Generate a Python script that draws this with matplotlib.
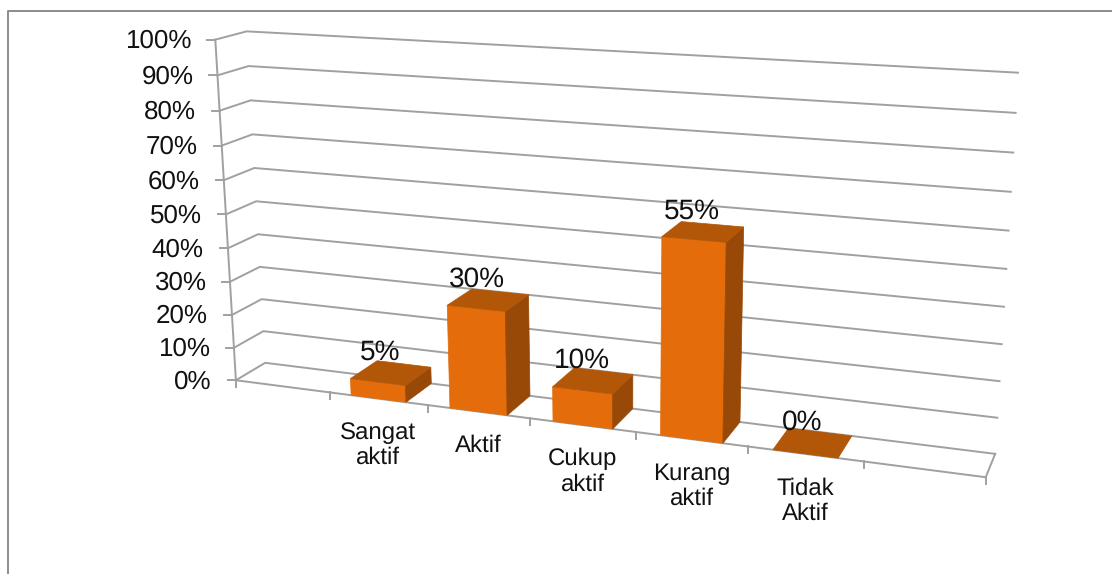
import numpy as np
import matplotlib
matplotlib.use('Agg')
import matplotlib.pyplot as plt
from matplotlib.patches import Polygon

plt.rcParams['font.family'] = ['Liberation Sans', 'DejaVu Sans']
plt.rcParams['text.hinting'] = 'none'
plt.rcParams['text.hinting_factor'] = 1

# data
categories = ['Sangat\naktif', 'Aktif', 'Cukup\naktif', 'Kurang\naktif', 'Tidak\nAktif']
values = [5, 30, 10, 55, 0]
value_labels = ['5%', '30%', '10%', '55%', '0%']
y_ticks = [0, 10, 20, 30, 40, 50, 60, 70, 80, 90, 100]

# colours
front_col = '#E46C0A'
top_col = '#B25607'
side_col = '#984807'
grid_col = '#A0A0A0'
frame_col = '#8C8C8C'

# x = category slot (0-7), y = percent, z = depth (0 front, 1 back wall)
# reference points used to fit the perspective of the 3d box
world = [(0, 0, 0), (1, 0, 0), (2, 0, 0), (3, 0, 0), (4, 0, 0), (5, 0, 0), (6, 0, 0), (7, 0, 0),
         (0, 0, 1), (7, 0, 1), (0, 100, 1), (7, 100, 1), (0, 100, 0)]
pixel = [(236, 380), (330, 392.5), (428, 405), (530, 418.5), (636, 432), (748, 446.5), (864, 461.5), (986, 477),
         (265, 363), (995, 454), (247, 31), (1018, 72.7), (215, 40)]

A = []
b = []
for (wx, wy, wz), (px, py) in zip(world, pixel):
    A.append([wx, wy, wz, 1, 0, 0, 0, 0, -px*wx, -px*wy, -px*wz])
    b.append(px)
    A.append([0, 0, 0, 0, wx, wy, wz, 1, -py*wx, -py*wy, -py*wz])
    b.append(py)
m = np.linalg.lstsq(np.array(A, dtype=float), np.array(b, dtype=float), rcond=None)[0]


def proj(x, y, z):
    w = m[8]*x + m[9]*y + m[10]*z + 1
    return ((m[0]*x + m[1]*y + m[2]*z + m[3])/w, (m[4]*x + m[5]*y + m[6]*z + m[7])/w)


fig = plt.figure(figsize=(11.12, 5.74), dpi=100)
ax = fig.add_axes([0, 0, 1, 1])
ax.set_xlim(0, 1112)
ax.set_ylim(574, 0)
ax.axis('off')

# outer frame, only top and left are visible
ax.plot([8, 8, 1112], [574, 10.5, 10.5], color=frame_col, lw=1.4, zorder=1)

# grid lines on side wall and back wall
for v in y_ticks:
    pts = [proj(0, v, 0), proj(0, v, 1), proj(7, v, 1)]
    ax.plot([p[0] for p in pts], [p[1] for p in pts], color=grid_col, lw=1.4, zorder=2)
    x0, y0 = proj(0, v, 0)
    ax.plot([x0-8, x0], [y0, y0], color=grid_col, lw=1.4, zorder=2)
    ax.text(x0-24, y0+1.5, str(v)+'%', ha='right', va='center', fontsize=19, color='#111111')

# axis lines
pts = [proj(0, 100, 0), proj(0, 0, 0), proj(7, 0, 0), proj(7, 0, 1)]
ax.plot([p[0] for p in pts], [p[1] for p in pts], color=grid_col, lw=1.4, zorder=2)
for i in range(8):
    x0, y0 = proj(i, 0, 0)
    ax.plot([x0, x0], [y0, y0+7], color=grid_col, lw=1.4, zorder=2)

# bars
for i, v in enumerate(values):
    x1 = i + 1 + 0.22
    x2 = i + 1 + 0.78
    if v > 0:
        ax.add_patch(Polygon([proj(x1, 0, 0), proj(x2, 0, 0), proj(x2, v, 0), proj(x1, v, 0)],
                             fc=front_col, ec=front_col, lw=0.5, zorder=3))
        ax.add_patch(Polygon([proj(x2, 0, 0), proj(x2, 0, 1), proj(x2, v, 1), proj(x2, v, 0)],
                             fc=side_col, ec=side_col, lw=0.5, zorder=3))
    ax.add_patch(Polygon([proj(x1, v, 0), proj(x2, v, 0), proj(x2, v, 1), proj(x1, v, 1)],
                         fc=top_col, ec=top_col, lw=0.5, zorder=3))
    tx, ty = proj(i + 1.5, v, 0.5)
    ax.text(tx-11, ty-20.5, value_labels[i], ha='center', va='center', fontsize=20.3, color='#111111', zorder=5)
    fx, fy = proj(i + 1.5, 0, 0)
    ax.text(fx, fy+23, categories[i], ha='center', va='top', multialignment='center',
            fontsize=17.2, linespacing=1.16, color='#111111', zorder=5)

fig.savefig('out.png', dpi=100)
